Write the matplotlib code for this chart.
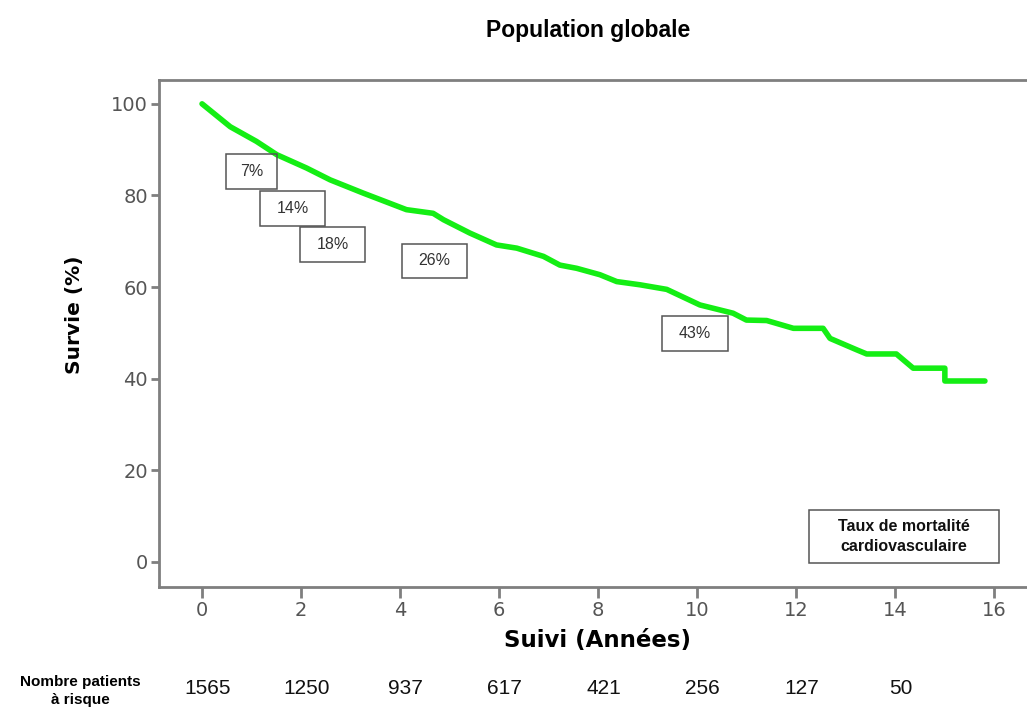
import matplotlib.pyplot as plt
from matplotlib.patches import Rectangle
from matplotlib import transforms

# Kaplan-Meier curve (years, survival %)
temps = [0.0, 0.57, 1.10, 1.51, 2.11, 2.59, 3.26, 4.13, 4.67, 4.88, 5.41, 5.95,
         6.36, 6.90, 7.23, 7.57, 8.04, 8.38, 8.85, 9.39, 10.06, 10.73, 11.0,
         11.41, 11.95, 12.55, 12.69, 13.23, 13.43, 14.03, 14.37, 15.01, 15.01, 15.82]
survie = [100.0, 95.0, 91.8, 88.9, 86.0, 83.4, 80.5, 76.9, 76.1, 74.7, 71.8, 69.2,
          68.5, 66.7, 64.8, 64.1, 62.7, 61.2, 60.5, 59.5, 56.1, 54.3, 52.8,
          52.7, 51.0, 51.0, 48.8, 46.3, 45.4, 45.4, 42.3, 42.3, 39.5, 39.5]

# cardiovascular mortality labels
taux_labels = ['7%', '14%', '18%', '26%', '43%']
taux_x = [1.0, 1.83, 2.64, 4.70, 9.96]
taux_y = [85.3, 77.1, 69.3, 65.7, 49.9]
taux_w = [1.04, 1.31, 1.31, 1.31, 1.33]

# patients at risk
annees = [0, 2, 4, 6, 8, 10, 12, 14]
a_risque = [1565, 1250, 937, 617, 421, 256, 127, 50]

gris = '#7f7f7f'

fig = plt.figure(figsize=(10.27, 7.22), dpi=100)
ax = fig.add_axes([0.1548, 0.187, 0.8452, 0.7022])

ax.plot(temps, survie, color='#14ee14', lw=4.0, solid_joinstyle='round',
        solid_capstyle='round', zorder=3)

ax.set_xlim(-0.87, 16.67)
ax.set_ylim(-5.46, 105.2)
ax.set_xticks(range(0, 17, 2))
ax.set_yticks(range(0, 101, 20))

for s in ['left', 'bottom', 'top']:
    ax.spines[s].set_color(gris)
    ax.spines[s].set_linewidth(2)
ax.spines['right'].set_visible(False)

ax.tick_params(axis='both', colors=gris, width=2, labelcolor='#555555',
               labelsize=14, direction='out')
ax.tick_params(axis='y', length=6, pad=2)
ax.tick_params(axis='x', length=8, pad=2)

# boxes with mortality rates
for lab, x, y, w in zip(taux_labels, taux_x, taux_y, taux_w):
    ax.add_patch(Rectangle((x - w / 2, y - 3.8), w, 7.6, fill=False,
                           ec='#555555', lw=1.1, zorder=4))
    ax.text(x, y, lab, ha='center', va='center', fontsize=11.5, color='#333333',
            family=['Liberation Sans Narrow', 'Liberation Sans'], zorder=5)

ax.add_patch(Rectangle((12.26, -0.2), 3.84, 11.6, fill=False, ec='#555555',
                       lw=1.1, zorder=4))
ax.text(14.18, 5.6, 'Taux de mortalité\ncardiovasculaire', ha='center',
        va='center', fontsize=11.5, fontweight='bold', family='Liberation Sans',
        linespacing=1.4, color='#111111')

fig.text(0.573, 0.958, 'Population globale', ha='center', va='center',
         fontsize=16.5, fontweight='bold', family='Liberation Sans')
fig.text(0.073, 0.564, 'Survie (%)', ha='center', va='center', rotation=90,
         fontsize=14.5, fontweight='bold', family='DejaVu Sans')
fig.text(0.582, 0.113, 'Suivi (Années)', ha='center', va='center',
         fontsize=16.5, fontweight='bold', family='DejaVu Sans')

fig.text(0.078, 0.043, 'Nombre patients\nà risque', ha='center', va='center',
         fontsize=11, fontweight='bold', family='Liberation Sans',
         linespacing=1.35)

trans = transforms.blended_transform_factory(ax.transData, fig.transFigure)
for a, n in zip(annees, a_risque):
    ax.text(a + 0.12, 0.046, str(n), transform=trans, ha='center', va='center',
            fontsize=15, family='Liberation Sans', color='#111111')

fig.savefig('out.png', dpi=100)
